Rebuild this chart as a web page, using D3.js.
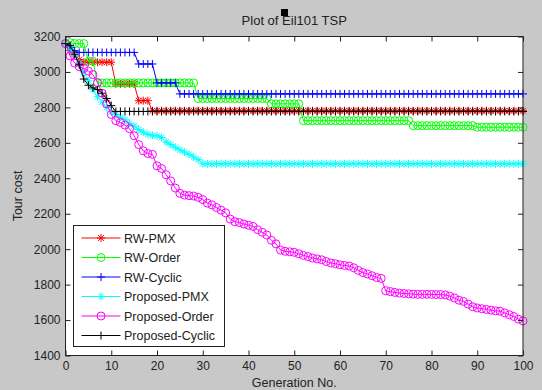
<!DOCTYPE html>
<html>
<head>
<meta charset="utf-8">
<script src="https://cdn.jsdelivr.net/npm/d3@7"></script>
<style>
  body { margin: 0; background: #c8c8c8; }
  svg { display: block; font-family: Arial, "Liberation Sans", sans-serif; }
</style>
</head>
<body>
<script>
//画布大小
var width = 542;
var height = 390;
const margin = {left: 65.5, right: 19, top: 36.5, bottom: 34.5};
const innerWidth = width - margin.left - margin.right;
const innerHeight = height - margin.top - margin.bottom;

// generations 0..100
var generations = d3.range(0, 101);
var xTicks = [0, 10, 20, 30, 40, 50, 60, 70, 80, 90, 100];
var yTicks = [1400, 1600, 1800, 2000, 2200, 2400, 2600, 2800, 3000, 3200];

var rwPMX = [
  3160, 3120, 3090, 3070, 3055, 3055, 3055, 3055, 3055, 3055,
  3055, 2932, 2932, 2932, 2932, 2932, 2838, 2838, 2838, 2781,
  2781, 2781, 2781, 2781, 2781, 2781, 2781, 2781, 2781, 2781,
  2781, 2781, 2781, 2781, 2781, 2781, 2781, 2781, 2781, 2781,
  2781, 2781, 2781, 2781, 2781, 2781, 2781, 2781, 2781, 2781,
  2781, 2781, 2781, 2781, 2781, 2781, 2781, 2781, 2781, 2781,
  2781, 2781, 2781, 2781, 2781, 2781, 2781, 2781, 2781, 2781,
  2781, 2781, 2781, 2781, 2781, 2781, 2781, 2781, 2781, 2781,
  2781, 2781, 2781, 2781, 2781, 2781, 2781, 2781, 2781, 2781,
  2781, 2781, 2781, 2781, 2781, 2781, 2781, 2781, 2781, 2781,
  2781
];
var rwOrder = [
  3160, 3165, 3160, 3160, 3160, 3060, 3060, 2938, 2938, 2938,
  2938, 2938, 2938, 2938, 2938, 2938, 2938, 2938, 2938, 2938,
  2938, 2938, 2938, 2938, 2938, 2938, 2938, 2938, 2938, 2850,
  2850, 2850, 2850, 2850, 2850, 2850, 2850, 2850, 2850, 2850,
  2850, 2850, 2850, 2850, 2850, 2820, 2820, 2820, 2820, 2820,
  2820, 2820, 2725, 2725, 2725, 2725, 2725, 2725, 2725, 2725,
  2725, 2725, 2725, 2725, 2725, 2725, 2725, 2725, 2725, 2725,
  2725, 2725, 2725, 2725, 2725, 2725, 2697, 2697, 2697, 2697,
  2697, 2697, 2697, 2697, 2697, 2697, 2697, 2697, 2697, 2697,
  2688, 2688, 2688, 2688, 2688, 2688, 2688, 2688, 2688, 2688,
  2688
];
var rwCyclic = [
  3160, 3140, 3120, 3110, 3110, 3110, 3110, 3110, 3110, 3110,
  3110, 3110, 3110, 3110, 3110, 3110, 3045, 3045, 3045, 3045,
  2938, 2938, 2938, 2938, 2938, 2876, 2876, 2876, 2876, 2876,
  2876, 2876, 2876, 2876, 2876, 2876, 2876, 2876, 2876, 2876,
  2876, 2876, 2876, 2876, 2876, 2876, 2876, 2876, 2876, 2876,
  2876, 2876, 2876, 2876, 2876, 2876, 2876, 2876, 2876, 2876,
  2876, 2876, 2876, 2876, 2876, 2876, 2876, 2876, 2876, 2876,
  2876, 2876, 2876, 2876, 2876, 2876, 2876, 2876, 2876, 2876,
  2876, 2876, 2876, 2876, 2876, 2876, 2876, 2876, 2876, 2876,
  2876, 2876, 2876, 2876, 2876, 2876, 2876, 2876, 2876, 2876,
  2876
];
var propPMX = [
  3160, 3130, 3090, 3050, 3000, 2950, 2900, 2860, 2830, 2800,
  2775, 2760, 2745, 2730, 2710, 2695, 2675, 2660, 2648, 2642,
  2640, 2630, 2605, 2590, 2575, 2560, 2548, 2535, 2520, 2505,
  2482, 2482, 2482, 2482, 2482, 2482, 2482, 2482, 2482, 2482,
  2482, 2482, 2482, 2482, 2482, 2482, 2482, 2482, 2482, 2482,
  2482, 2482, 2482, 2482, 2482, 2482, 2482, 2482, 2482, 2482,
  2482, 2482, 2482, 2482, 2482, 2482, 2482, 2482, 2482, 2482,
  2482, 2482, 2482, 2482, 2482, 2482, 2482, 2482, 2482, 2482,
  2482, 2482, 2482, 2482, 2482, 2482, 2482, 2482, 2482, 2482,
  2482, 2482, 2482, 2482, 2482, 2482, 2482, 2482, 2482, 2482,
  2482
];
var propOrder = [
  3160, 3090, 3050, 3030, 3020, 3005, 2985, 2940, 2880, 2820,
  2760, 2725, 2715, 2700, 2680, 2640, 2590, 2555, 2540, 2535,
  2470, 2455, 2420, 2385, 2345, 2315, 2305, 2302, 2300, 2292,
  2280, 2260, 2250, 2235, 2220, 2205, 2170, 2155, 2150, 2142,
  2135, 2128, 2110, 2095, 2080, 2050, 2030, 1995, 1988, 1985,
  1982, 1974, 1965, 1958, 1950, 1945, 1940, 1930, 1922, 1918,
  1912, 1908, 1905, 1895, 1880, 1868, 1860, 1850, 1840, 1835,
  1765, 1760, 1756, 1752, 1750, 1748, 1746, 1745, 1745, 1745,
  1745, 1744, 1744, 1742, 1735, 1725, 1712, 1705, 1690, 1675,
  1668, 1664, 1660, 1656, 1652, 1650, 1640, 1630, 1620, 1605,
  1595
];
var propCyclic = [
  3160, 3150, 3100, 3040, 2960, 2925, 2910, 2900, 2880, 2850,
  2810, 2777, 2777, 2777, 2777, 2777, 2777, 2777, 2777, 2777,
  2777, 2777, 2777, 2777, 2777, 2777, 2777, 2777, 2777, 2777,
  2777, 2777, 2777, 2777, 2777, 2777, 2777, 2777, 2777, 2777,
  2777, 2777, 2777, 2777, 2777, 2777, 2777, 2777, 2777, 2777,
  2777, 2777, 2777, 2777, 2777, 2777, 2777, 2777, 2777, 2777,
  2777, 2777, 2777, 2777, 2777, 2777, 2777, 2777, 2777, 2777,
  2777, 2777, 2777, 2777, 2777, 2777, 2777, 2777, 2777, 2777,
  2777, 2777, 2777, 2777, 2777, 2777, 2777, 2777, 2777, 2777,
  2777, 2777, 2777, 2777, 2777, 2777, 2777, 2777, 2777, 2777,
  2777
];

var seriesNames = ["RW-PMX", "RW-Order", "RW-Cyclic", "Proposed-PMX", "Proposed-Order", "Proposed-Cyclic"];
var seriesValues = [rwPMX, rwOrder, rwCyclic, propPMX, propOrder, propCyclic];
var seriesColors = ["#ff0000", "#00ff00", "#0000ff", "#00ffff", "#ff00ff", "#000000"];
var seriesMarkers = ["star", "circle", "plus", "star", "circle", "plus"];

// marker shapes (MATLAB-like * o +)
var markerPath = {
  star: "M-4,0L4,0M0,-4L0,4M-2.9,-2.9L2.9,2.9M-2.9,2.9L2.9,-2.9",
  plus: "M-4,0L4,0M0,-4L0,4"
};

var svg = d3.select("body")
  .append("svg")
  .attr("width", width)
  .attr("height", height);

svg.append("rect").attr("width", width).attr("height", height).attr("fill", "#c8c8c8");

var xScale = d3.scaleLinear().domain([0, 100]).range([0, innerWidth]);
var yScale = d3.scaleLinear().domain([1400, 3200]).range([innerHeight, 0]);

const g = svg.append("g").attr("transform", `translate(${margin.left},${margin.top})`);

g.append("rect")
  .attr("width", innerWidth)
  .attr("height", innerHeight)
  .attr("fill", "#fff");

// 曲线
var line = d3.line()
  .x((d, i) => xScale(generations[i]))
  .y(d => yScale(d));

seriesValues.forEach(function (vals, k) {
  var color = seriesColors[k];
  var sg = g.append("g").attr("class", "series");
  sg.append("path")
    .datum(vals)
    .attr("d", line)
    .attr("fill", "none")
    .attr("stroke", color)
    .attr("stroke-width", 1);
  if (seriesMarkers[k] === "circle") {
    sg.selectAll("circle")
      .data(vals)
      .enter()
      .append("circle")
      .attr("cx", (d, i) => xScale(generations[i]))
      .attr("cy", d => yScale(d))
      .attr("r", 4)
      .attr("fill", "none")
      .attr("stroke", color)
      .attr("stroke-width", 1);
  } else {
    sg.selectAll(".mk")
      .data(vals)
      .enter()
      .append("path")
      .attr("class", "mk")
      .attr("transform", (d, i) => `translate(${xScale(generations[i])},${yScale(d)})`)
      .attr("d", markerPath[seriesMarkers[k]])
      .attr("fill", "none")
      .attr("stroke", color)
      .attr("stroke-width", 1);
  }
});

// 坐标轴 (ticks inward, box on)
var xAxis = d3.axisBottom(xScale).tickValues(xTicks).tickSize(-5).tickPadding(6).tickFormat(d3.format("d"));
var yAxis = d3.axisLeft(yScale).tickValues(yTicks).tickSize(-5).tickPadding(5).tickFormat(d3.format("d"));

var gx = g.append("g").attr("transform", `translate(0,${innerHeight})`).call(xAxis);
var gy = g.append("g").call(yAxis);
g.append("g").call(d3.axisTop(xScale).tickValues(xTicks).tickSize(-5).tickFormat(""));
g.append("g").attr("transform", `translate(${innerWidth},0)`)
  .call(d3.axisRight(yScale).tickValues(yTicks).tickSize(-5).tickFormat(""));

g.selectAll(".domain").remove();
g.selectAll(".tick line").attr("stroke", "#222");
g.selectAll(".tick text").attr("fill", "#222").style("font-size", "12px").style("font-family", "Arial, 'Liberation Sans', sans-serif");

g.append("rect")
  .attr("width", innerWidth)
  .attr("height", innerHeight)
  .attr("fill", "none")
  .attr("stroke", "#222")
  .attr("stroke-width", 1);

// 图例
var legend = svg.append("g").attr("transform", "translate(73.5,225.5)");
legend.append("rect")
  .attr("width", 151)
  .attr("height", 121)
  .attr("fill", "#fff")
  .attr("stroke", "#222");

seriesNames.forEach(function (name, k) {
  var yy = 12.5 + k * 19.5;
  var color = seriesColors[k];
  legend.append("line")
    .attr("x1", 8).attr("x2", 47)
    .attr("y1", yy).attr("y2", yy)
    .attr("stroke", color);
  if (seriesMarkers[k] === "circle") {
    legend.append("circle").attr("cx", 27.5).attr("cy", yy).attr("r", 4)
      .attr("fill", "none").attr("stroke", color);
  } else {
    legend.append("path").attr("transform", `translate(27.5,${yy})`)
      .attr("d", markerPath[seriesMarkers[k]])
      .attr("fill", "none").attr("stroke", color);
  }
  legend.append("text")
    .attr("x", 50.5)
    .attr("y", yy)
    .attr("dy", "0.36em")
    .attr("fill", "#222")
    .style("font-size", "12.5px")
    .text(name);
});

// 标题和轴标签
svg.append("text")
  .attr("x", margin.left + innerWidth / 2)
  .attr("y", 25)
  .attr("text-anchor", "middle")
  .attr("fill", "#222")
  .style("font-size", "13px")
  .text("Plot of Eil101 TSP");

svg.append("rect").attr("x", 281).attr("y", 9).attr("width", 7).attr("height", 7).attr("fill", "#000");

svg.append("text")
  .attr("x", margin.left + innerWidth / 2)
  .attr("y", 387)
  .attr("text-anchor", "middle")
  .attr("fill", "#222")
  .style("font-size", "12.5px")
  .text("Generation No.");

svg.append("text")
  .attr("transform", `translate(22,${margin.top + innerHeight / 2}) rotate(-90)`)
  .attr("text-anchor", "middle")
  .attr("fill", "#222")
  .style("font-size", "12.5px")
  .text("Tour cost");
</script>
</body>
</html>
